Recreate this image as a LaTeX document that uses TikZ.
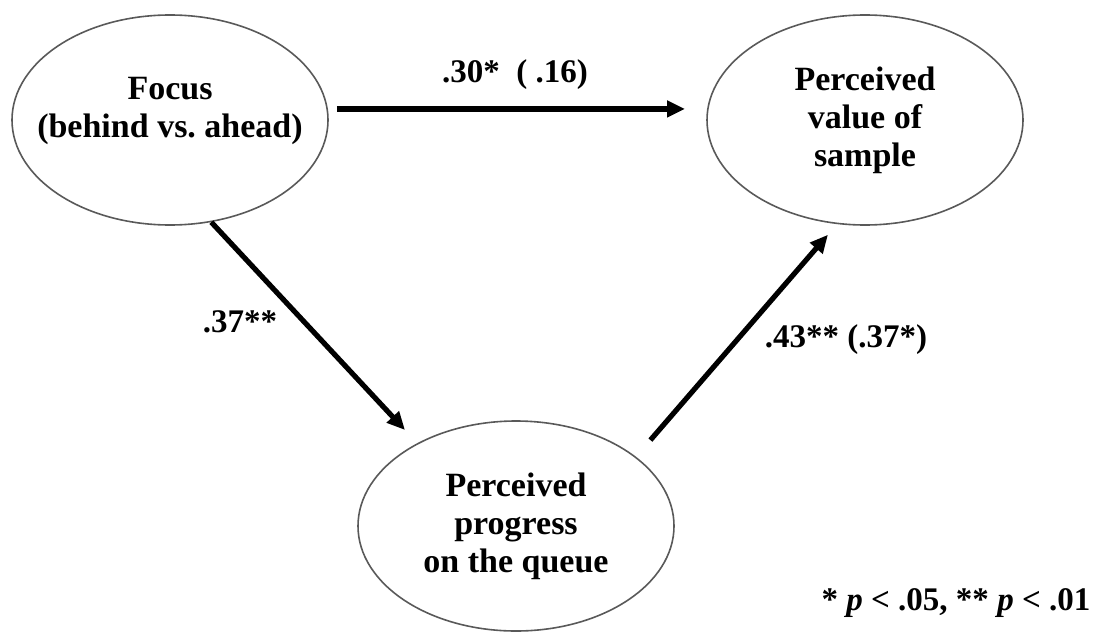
\documentclass[tikz,border=0pt]{standalone}
\usepackage{fontspec}
\setmainfont{Liberation Serif}
\usetikzlibrary{shapes.geometric,arrows.meta}

\begin{document}
\begin{tikzpicture}[x=0.5pt,y=-0.5pt,
    construct/.style={ellipse,draw=black!65,line width=0.8pt,inner ysep=0pt,inner xsep=-12pt,
      minimum width=158pt,minimum height=105pt,align=center,
      font=\fontsize{17}{19}\selectfont\bfseries},
    path/.style={line width=#1,-{Triangle[length=9pt,width=8pt]}},
    coef/.style={font=\fontsize{16.5}{19}\selectfont\bfseries}]

            \useasboundingbox (0,0) rectangle (1095,631);

            % the three constructs
            \node[construct] (focus) at (170,120) {Focus\\(behind vs.\ ahead)\\[-6pt]\mbox{}};
            \node[construct] (value) at (865,120) {Perceived\\value of\\sample};
            \node[construct] (progress) at (516,526) {Perceived\\progress\\on the queue};

            % paths
            \draw[path=3pt,shorten <=4.5pt,shorten >=11pt] (focus.4) -- (value.176);
            \draw[path=2.6pt,shorten >=9pt] (focus.-68) -- (progress.140.5);
            \draw[path=2.6pt,shorten <=11pt,shorten >=7pt] (progress.30.8) -- (value.-105.75);

            \node[coef] (c1) at (515,75) {.30*~~( .16)};
            \node[coef] (c2) at (240,322) {.37**};
            \node[coef] (c3) at (846,340) {.43** (.37*)};

            \node[coef] (note) at (956,603) {* \textit{p} < .05, ** \textit{p} < .01};
        \end{tikzpicture}
\end{document}
